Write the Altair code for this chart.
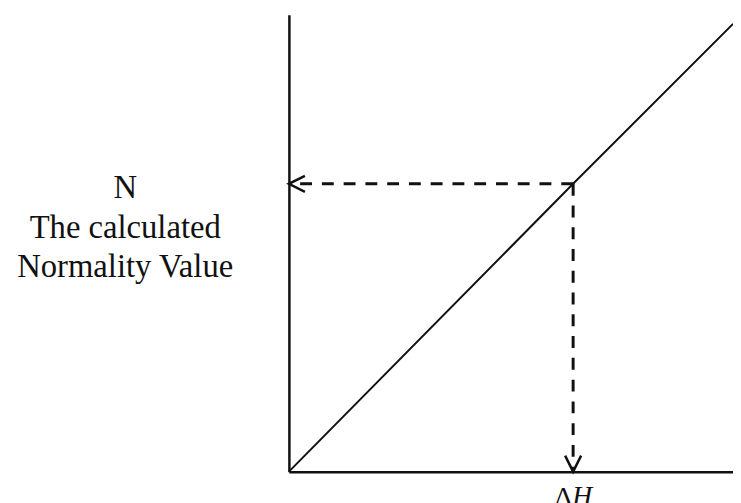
import altair as alt
import pandas as pd

# ---- data ----
line_x = [0, 64, 100]          # diagonal N vs ΔH
line_y = [0, 63, 98]
read_dh = [64]                 # reading point on ΔH axis
read_n = [63]                  # corresponding N value
y_title_lines = ["N", "The calculated", "Normality  Value"]
x_title_symbol = "Δ"
x_title_var = ["H"]

W, H = 449, 462
INK = "#111111"

line_df = pd.DataFrame({"x": line_x, "y": line_y})
read_df = pd.DataFrame({"x0": [0], "y0": [0], "dh": read_dh, "n": read_n, "lbl": x_title_var})

xs = alt.Scale(domain=[0, 100], nice=False, zero=False)
ys = alt.Scale(domain=[0, 100], nice=False, zero=False)

x_axis = alt.Axis(
    domain=True, domainColor=INK, domainWidth=2.5, ticks=False, labels=False, grid=False,
    title=x_title_symbol, titleFont="Liberation Serif", titleFontSize=28,
    titleFontWeight="normal", titleColor=INK, titleX=286, titleY=34,
    titleAlign="right", titleBaseline="alphabetic",
)
y_axis = alt.Axis(
    domain=True, domainColor=INK, domainWidth=2.5, ticks=False, labels=False, grid=False,
    title=y_title_lines, titleFont="Liberation Serif", titleFontSize=33,
    titleFontWeight="normal", titleColor=INK, titleAngle=0, titleX=-166, titleY=185,
    titleAlign="center", titleBaseline="alphabetic", titleLineHeight=40,
)

diag = alt.Chart(line_df).mark_line(color=INK, strokeWidth=2).encode(
    x=alt.X("x:Q", scale=xs, axis=x_axis),
    y=alt.Y("y:Q", scale=ys, axis=y_axis),
)

hdash = alt.Chart(read_df).mark_rule(color=INK, strokeWidth=3, strokeDash=[12, 10]).encode(
    x=alt.X("dh:Q", scale=xs), x2="x0:Q", y=alt.Y("n:Q", scale=ys)
)
vdash = alt.Chart(read_df).mark_rule(color=INK, strokeWidth=3, strokeDash=[12, 10]).encode(
    x=alt.X("dh:Q", scale=xs), y=alt.Y("n:Q", scale=ys), y2="y0:Q"
)

left_arrow = alt.Chart(read_df).mark_point(
    shape="M1.8,-0.9L0,0L1.8,0.9", size=324, filled=False, stroke=INK, strokeWidth=2.5, opacity=1
).encode(x=alt.X("x0:Q", scale=xs), y=alt.Y("n:Q", scale=ys))

down_arrow = alt.Chart(read_df).mark_point(
    shape="M-0.9,-1.8L0,0L0.9,-1.8", size=324, filled=False, stroke=INK, strokeWidth=2.5, opacity=1
).encode(x=alt.X("dh:Q", scale=xs), y=alt.Y("y0:Q", scale=ys))

h_label = alt.Chart(read_df).mark_text(
    font="Liberation Serif", fontSize=28, fontStyle="italic", color=INK,
    align="left", baseline="alphabetic", dx=-1,
).encode(x=alt.X("dh:Q", scale=xs), y=alt.value(H + 34), text="lbl:N")

chart = (
    alt.layer(diag, hdash, vdash, left_arrow, down_arrow, h_label)
    .properties(
        width=W, height=H,
        padding={"left": 284, "top": 4, "right": 0, "bottom": 40},
        autosize="none",
        background="white",
    )
    .configure_view(stroke=None)
)

chart.save("out.html", embed_options={"renderer": "svg", "actions": False})
